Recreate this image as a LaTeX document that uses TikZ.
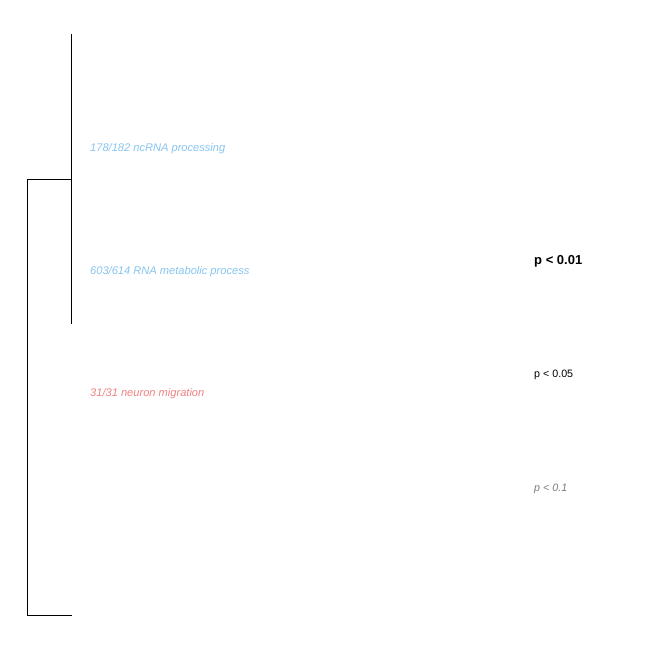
\documentclass[tikz,border=0pt]{standalone}
\usepackage{fontspec}
\setmainfont{Liberation Sans}
\usepackage{tikz}
\usetikzlibrary{positioning}
\definecolor{termblue}{RGB}{135,196,240}
\definecolor{termred}{RGB}{240,128,128}
\definecolor{pgray}{RGB}{128,122,122}
\tikzset{
  termlabel/.style={anchor=west, inner sep=0pt, font=\fontsize{11.1}{13}\selectfont\itshape},
  plabel/.style={anchor=west, inner sep=0pt},
  branch/.style={draw, line width=1pt},
}

\begin{document}
\begin{tikzpicture}[x=1pt, y=-1pt]
  \useasboundingbox (0,0) rectangle (664,664);

  % tree joints
  \coordinate (top) at (71,34);
  \coordinate (mid) at (71,324);
  \coordinate (join) at (71,179);
  \coordinate (root) at (27,179);
  \coordinate (rootlow) at (27,615);
  \coordinate (leaf) at (72,615);

  % branches
  \draw[branch] (top) -- (mid);
  \draw[branch] (join) -- (root) -- (rootlow) -- (leaf);

  % GO terms
  \node[termlabel, text=termblue] (ncrna) at (90,149) {178/182 ncRNA processing};
  \node[termlabel, text=termblue] (rnamet) at (90,272) {603/614 RNA metabolic process};
  \node[termlabel, text=termred] (neuron) at (90,394) {31/31 neuron migration};

  % legend
  \node[plabel, font=\fontsize{13}{15}\selectfont\bfseries] (p01) at (534,261) {p < 0.01};
  \node[plabel, font=\fontsize{10.7}{13}\selectfont] (p05) at (534,375) {p < 0.05};
  \node[plabel, font=\fontsize{10.7}{13}\selectfont\itshape, text=pgray] (p1) at (534,489) {p < 0.1};
\end{tikzpicture}
\end{document}
